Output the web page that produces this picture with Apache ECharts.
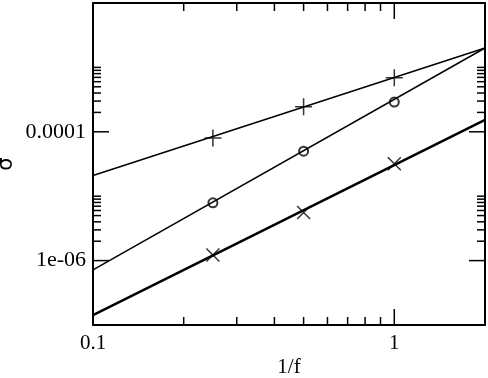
<!DOCTYPE html>
<html>
<head>
<meta charset="utf-8">
<script src="https://cdn.jsdelivr.net/npm/echarts@6/dist/echarts.min.js"></script>
<style>html,body{margin:0;padding:0;background:#fff}#c{width:488px;height:378px}</style>
</head>
<body>
<div id="c"></div>
<script>
// axis ranges
var xRange = [0.1, 2];
var yRange = [1e-7, 1e-2];
// fitted lines (endpoints at axis edges)
var fitX = [0.1, 2];
var plusFitY = [2.1e-5, 2.0e-3];
var circleFitY = [7.2e-7, 2.0e-3];
var crossFitY = [1.42e-7, 1.53e-4];
// measured points
var pointX = [0.25, 0.5, 1];
var plusY = [8.0e-5, 2.45e-4, 6.9e-4];
var circleY = [7.9e-6, 5.0e-5, 2.9e-4];
var crossY = [1.22e-6, 5.6e-6, 3.2e-5];
// ticks and labels
var xMajorTicks = [0.1, 1];
var xMinorTicks = [0.2, 0.3, 0.4, 0.5, 0.6, 0.7, 0.8, 0.9];
var yMajorTicks = [1e-6, 1e-4, 1e-2];
var yMinorTicks = [2e-6, 3e-6, 4e-6, 5e-6, 6e-6, 7e-6, 8e-6, 9e-6, 1e-5,
                   2e-4, 3e-4, 4e-4, 5e-4, 6e-4, 7e-4, 8e-4, 9e-4, 1e-3];
var xLabelValues = [0.1, 1];
var xLabelTexts = ['0.1', '1'];
var yLabelValues = [1e-6, 1e-4];
var yLabelTexts = ['1e-06', '0.0001'];

function zip(xs, ys) { return xs.map(function (x, i) { return [x, ys[i]]; }); }
function labelFor(v, vals, texts) {
  for (var i = 0; i < vals.length; i++) {
    if (Math.abs(Math.log10(v) - Math.log10(vals[i])) < 1e-6) return texts[i];
  }
  return '';
}

var tickData = [];
yMajorTicks.forEach(function (v) { tickData.push([xRange[0], v, 0]); });
yMinorTicks.forEach(function (v) { tickData.push([xRange[0], v, 1]); });
xMajorTicks.forEach(function (v) { tickData.push([v, yRange[0], 2]); });
xMinorTicks.forEach(function (v) { tickData.push([v, yRange[0], 3]); });

var MAJ = 16, MIN = 8;
function renderTick(params, api) {
  var cs = params.coordSys;
  var kind = api.value(2);
  var p = api.coord([api.value(0), api.value(1)]);
  var st = { stroke: '#000', lineWidth: 1.5 };
  var len = (kind === 0 || kind === 2) ? MAJ : MIN;
  var kids = [];
  if (kind < 2) {
    kids.push({ type: 'line', shape: { x1: cs.x, y1: p[1], x2: cs.x + len, y2: p[1] }, style: st });
    kids.push({ type: 'line', shape: { x1: cs.x + cs.width - len, y1: p[1], x2: cs.x + cs.width, y2: p[1] }, style: st });
  } else {
    kids.push({ type: 'line', shape: { x1: p[0], y1: cs.y + cs.height, x2: p[0], y2: cs.y + cs.height - len }, style: st });
    kids.push({ type: 'line', shape: { x1: p[0], y1: cs.y, x2: p[0], y2: cs.y + len }, style: st });
  }
  return { type: 'group', children: kids };
}

var serif = 'Liberation Serif';
var chart = echarts.init(document.getElementById('c'), null, { renderer: 'canvas' });
chart.setOption({
  backgroundColor: '#fff',
  animation: false,
  grid: { left: 93, right: 3, top: 3, bottom: 53, containLabel: false, outerBoundsMode: 'none',
    show: true, borderColor: '#000', borderWidth: 2, backgroundColor: 'transparent' },
  xAxis: {
    type: 'log', logBase: 10, min: xRange[0], max: xRange[1],
    name: '1/f', nameLocation: 'middle', nameGap: 32, nameMoveOverlap: false,
    nameTextStyle: { fontFamily: serif, fontSize: 21, color: '#000' },
    axisLine: { show: false }, axisTick: { show: false }, splitLine: { show: false }, minorTick: { show: false },
    axisLabel: { show: true, showMinLabel: true, showMaxLabel: true, margin: 8, fontFamily: serif, fontSize: 21, color: '#000',
      formatter: function (v) { return labelFor(v, xLabelValues, xLabelTexts); } }
  },
  yAxis: {
    type: 'log', logBase: 10, min: yRange[0], max: yRange[1],
    name: 'σ', nameLocation: 'middle', nameGap: 76, nameMoveOverlap: false,
    nameTextStyle: { fontFamily: 'DejaVu Sans', fontSize: 21, color: '#000' },
    axisLine: { show: false }, axisTick: { show: false }, splitLine: { show: false }, minorTick: { show: false },
    axisLabel: { show: true, showMinLabel: true, showMaxLabel: true, margin: 7, fontFamily: serif, fontSize: 22, color: '#000',
      formatter: function (v) { return labelFor(v, yLabelValues, yLabelTexts); } }
  },
  series: [
    { type: 'line', data: zip(fitX, plusFitY), symbol: 'none', lineStyle: { color: '#000', width: 1.5 }, silent: true },
    { type: 'line', data: zip(fitX, circleFitY), symbol: 'none', lineStyle: { color: '#000', width: 1.5 }, silent: true },
    { type: 'line', data: zip(fitX, crossFitY), symbol: 'none', lineStyle: { color: '#000', width: 2.5 }, silent: true },
    { type: 'scatter', data: zip(pointX, plusY), symbol: 'path://M0,5L10,5M5,0L5,10', symbolSize: 17,
      itemStyle: { color: 'transparent', borderColor: '#000', borderWidth: 1.5 }, silent: true },
    { type: 'scatter', data: zip(pointX, circleY), symbol: 'emptyCircle', symbolSize: 9,
      itemStyle: { color: '#000', borderColor: '#000', borderWidth: 1.3 }, silent: true },
    { type: 'scatter', data: zip(pointX, crossY), symbol: 'path://M0,0L10,10M10,0L0,10', symbolSize: 13,
      itemStyle: { color: 'transparent', borderColor: '#000', borderWidth: 1.5 }, silent: true },
    { type: 'custom', data: tickData, renderItem: renderTick, encode: { x: 0, y: 1 }, silent: true, z: 10 }
  ]
});
</script>
</body>
</html>
